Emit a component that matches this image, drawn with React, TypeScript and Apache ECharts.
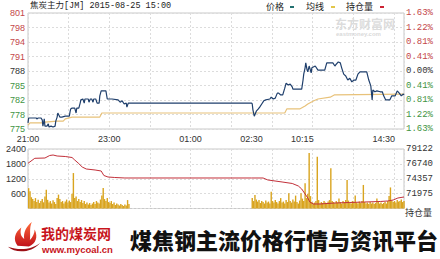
import React, { useEffect, useRef } from "react";
import * as echarts from "echarts";

// Session clock: minute index counted from 21:00, breaks removed (555 minutes in all)
const TOTAL_MINUTES = 555;
const TIME_LABELS: Record<number, string> = {
  0: "21:00",
  120: "23:00",
  240: "01:00",
  330: "02:30",
  405: "10:15",
  525: "14:30",
};

const PRE_CLOSE = 788;
const PRICE_STEP = 3.21;

// Last price (minute index, price)
const priceMinutes = [
  0, 1, 12, 13, 15, 19, 21, 22, 24, 25, 28, 30, 31, 34, 37, 40, 41, 43, 44, 47, 50, 55, 61, 62, 63, 65, 69, 71, 72, 75,
  77, 78, 81, 83, 84, 89, 90, 92, 94, 96, 97, 100, 102, 105, 106, 108, 115, 117, 124, 133, 136, 139, 142, 145, 146, 148,
  149, 330, 331, 332, 334, 337, 340, 342, 345, 348, 351, 357, 359, 362, 365, 368, 370, 373, 376, 379, 381, 384, 387, 390,
  391, 404, 406, 407, 409, 410, 412, 413, 415, 418, 419, 424, 428, 438, 441, 450, 453, 455, 458, 461, 463, 466, 469, 472,
  475, 478, 481, 484, 487, 490, 500, 503, 506, 508, 509, 512, 515, 520, 523, 525, 528, 534, 537, 542, 545, 548, 551, 554,
  555,
];
const prices = [
  776.5, 777.6, 777.6, 777.4, 777.6, 777.6, 777.2, 775.8, 777.4, 775.8, 775.8, 776.3, 775.6, 775.8, 775.6, 775.8, 776.9,
  777.8, 778.7, 777.8, 777.8, 778.0, 778.0, 778.9, 779.6, 779.8, 779.8, 778.7, 779.8, 779.8, 780.9, 781.6, 781.8, 780.9,
  781.8, 781.8, 781.1, 781.8, 781.8, 781.1, 781.8, 781.8, 780.9, 780.9, 782.5, 783.6, 783.6, 781.8, 781.8, 781.6, 781.1,
  781.4, 780.7, 780.9, 780.0, 780.9, 780.9, 780.9, 780.7, 779.4, 778.0, 779.1, 779.6, 780.0, 780.7, 781.4, 781.6, 781.8,
  782.2, 781.8, 782.0, 783.1, 783.1, 782.7, 782.7, 784.2, 785.3, 784.9, 785.1, 784.5, 784.0, 784.0, 786.0, 787.3, 788.7,
  789.8, 788.2, 787.8, 789.1, 787.6, 788.7, 789.1, 788.2, 788.2, 789.8, 789.8, 789.1, 789.5, 790.0, 789.8, 788.7, 787.3,
  786.9, 786.0, 786.4, 785.6, 786.0, 786.0, 787.3, 787.8, 787.8, 786.0, 784.7, 781.6, 783.8, 783.4, 783.6, 783.4, 783.4,
  782.5, 781.6, 781.6, 782.5, 782.5, 783.6, 783.1, 782.5, 782.9, 782.7,
];

// Average price line
const avgMinutes = [0, 3, 22, 25, 43, 52, 55, 65, 106, 109, 149, 330, 379, 382, 401, 409, 413, 422, 428, 446, 452, 555];
const avgPrices = [
  776.0, 776.5, 776.5, 776.7, 776.9, 776.9, 777.4, 777.8, 777.8, 778.7, 778.7, 778.7, 778.7, 779.6, 779.6, 780.25, 780.7,
  781.4, 781.8, 782.2, 782.7, 782.9,
];

// Volume in 2-minute buckets: night session from 21:00, day session from 09:00 (minute 330)
const nightVolumes = [
  820, 700, 450, 380, 300, 420, 260, 350, 220, 300, 380, 250, 480, 760, 350, 240, 300, 200, 330, 260, 180, 420, 560, 380,
  260, 300, 200, 280, 360, 240, 320, 260, 600, 1430, 420, 480, 300, 380, 260, 340, 220, 300, 180, 240, 160, 220, 140, 200,
  260, 180, 300, 240, 200, 360, 520, 830, 380, 300, 420, 260, 220, 300, 180, 240, 140, 200, 160, 120, 180, 140, 100, 160,
  120, 340, 180,
];
const dayVolumes = [
  420, 300, 540, 360, 280, 340, 220, 300, 260, 200, 320, 240, 280, 200, 680, 300, 240, 340, 260, 200, 300, 420, 240, 280,
  200, 340, 260, 620, 300, 240, 360, 280, 520, 260, 200, 320, 620, 400, 300, 1020, 420, 600, 2240, 500, 260, 200, 240, 300,
  2090, 340, 200, 260, 220, 300, 240, 200, 280, 340, 1620, 300, 260, 220, 300, 240, 400, 260, 200, 300, 240, 340, 1150, 320,
  240, 200, 300, 260, 520, 240, 200, 280, 220, 300, 950, 260, 200, 240, 180, 260, 200, 240, 180, 220, 400, 260, 200, 240,
  180, 220, 260, 200, 300, 500, 850, 320, 260, 300, 240, 340, 280, 300, 360, 260, 300,
];
const DAY_START = 330;

// Open interest (minute index, contracts)
const oiMinutes = [
  0, 10, 25, 32, 37, 43, 55, 65, 69, 74, 80, 86, 99, 108, 112, 118, 128, 143, 149, 330, 347, 354, 375, 390, 399, 404, 409,
  413, 416, 421, 431, 453, 475, 497, 520, 531, 539, 546, 555,
];
const openInterest = [
  76832, 77633, 77680, 78080, 78160, 78000, 77920, 77760, 77360, 76880, 76240, 75920, 75760, 75600, 74880, 74640, 74560,
  74478, 74478, 74478, 74478, 74160, 73840, 73600, 73200, 72716, 71915, 71275, 70634, 70314, 70314, 70474, 70554, 70634,
  70714, 70794, 70954, 71275, 71435,
];
const OI_BASE = 69592.6;
const OI_STEP = 2382.35;

const VOLUME_TICKS = { max: 2400, step: 600 };

const FLAME_PATH =
  "M9 27C4 21 6 13 13 8C11 14 13 18 16 20C15 13 18 7 24 2C21 9 23 15 22 21C25 18 27 14 27 10C31 18 28 25 21 28Z";
const SWOOSH_PATH = "M1 26C9 33 25 33 35 22C27 28 15 31 1 26Z";
echarts.graphic.registerShape("flame", echarts.graphic.extendPath(FLAME_PATH, {}));
echarts.graphic.registerShape("swoosh", echarts.graphic.extendPath(SWOOSH_PATH, {}));

const SANS = "Liberation Sans, Arial, sans-serif";
const MONO = "Liberation Mono, monospace";
const CJK = "Noto Sans CJK SC, sans-serif";
const UP = "#c4474a";
const DOWN = "#3f9443";
const FLAT = "#333333";
const GRID_LINE = { color: "#dcdcdc", type: [2, 2] as number[], width: 1 };

function buildOption() {
  const priceData = priceMinutes.map((m, i) => [m, (prices[i] - PRE_CLOSE) / PRICE_STEP]);
  const avgData = avgMinutes.map((m, i) => [m, (avgPrices[i] - PRE_CLOSE) / PRICE_STEP]);
  const volData = [
    ...nightVolumes.map((v, k) => [k * 2 + 1, v]),
    ...dayVolumes.map((v, k) => [DAY_START + k * 2 + 1, v]),
  ];
  const oiData = oiMinutes.map((m, i) => [m, (openInterest[i] - OI_BASE) / OI_STEP]);

  const timeAxisBase = { type: "value", min: 0, max: TOTAL_MINUTES, axisLine: { show: false }, axisTick: { show: false } };

  return {
    animation: false,
    backgroundColor: "#ffffff",
    grid: [
      { left: 28, top: 13, width: 376, height: 116, show: true, borderColor: "#c9c9c9", borderWidth: 1 },
      { left: 28, top: 149, width: 376, height: 59.5, show: true, borderColor: "#c9c9c9", borderWidth: 1 },
    ],
    xAxis: [
      {
        ...timeAxisBase,
        gridIndex: 0,
        interval: 15,
        splitLine: { show: false },
        axisLabel: {
          show: true,
          margin: 5,
          fontSize: 9,
          fontFamily: SANS,
          color: "#333",
          formatter: (v: number) => TIME_LABELS[Math.round(v)] ?? "",
        },
      },
      {
        ...timeAxisBase,
        gridIndex: 0,
        interval: 60,
        position: "top",
        axisLabel: { show: false },
        splitLine: { show: true, lineStyle: GRID_LINE },
      },
      { ...timeAxisBase, gridIndex: 1, interval: 60, axisLabel: { show: false }, splitLine: { show: true, lineStyle: GRID_LINE } },
    ],
    yAxis: [
      {
        type: "value",
        gridIndex: 0,
        min: -4,
        max: 4,
        interval: 1,
        position: "left",
        axisLine: { show: false },
        axisTick: { show: false },
        splitLine: { show: true, lineStyle: GRID_LINE },
        axisLabel: {
          margin: 3,
          fontSize: 9,
          fontFamily: SANS,
          formatter: (v: number) => {
            const r = Math.round(v);
            const txt = String(Math.round(PRE_CLOSE + v * PRICE_STEP));
            return r > 0 ? `{up|${txt}}` : r < 0 ? `{dn|${txt}}` : `{fl|${txt}}`;
          },
          rich: {
            up: { color: UP, fontSize: 9, fontFamily: SANS },
            dn: { color: DOWN, fontSize: 9, fontFamily: SANS },
            fl: { color: FLAT, fontSize: 9, fontFamily: SANS },
          },
        },
      },
      {
        type: "value",
        gridIndex: 0,
        min: -4,
        max: 4,
        interval: 1,
        position: "right",
        axisLine: { show: false },
        axisTick: { show: false },
        splitLine: { show: false },
        axisLabel: {
          margin: 2,
          fontSize: 9,
          fontFamily: MONO,
          formatter: (v: number) => {
            const r = Math.round(v);
            const txt = Math.abs((v * PRICE_STEP * 100) / PRE_CLOSE).toFixed(2) + "%";
            return r > 0 ? `{up|${txt}}` : r < 0 ? `{dn|${txt}}` : `{fl|${txt}}`;
          },
          rich: {
            up: { color: UP, fontSize: 9, fontFamily: MONO },
            dn: { color: DOWN, fontSize: 9, fontFamily: MONO },
            fl: { color: FLAT, fontSize: 9, fontFamily: MONO },
          },
        },
      },
      {
        type: "value",
        gridIndex: 1,
        min: 0,
        max: VOLUME_TICKS.max,
        interval: VOLUME_TICKS.step,
        position: "left",
        axisLine: { show: false },
        axisTick: { show: false },
        splitLine: { show: true, lineStyle: GRID_LINE },
        axisLabel: {
          margin: 2,
          fontSize: 9,
          fontFamily: SANS,
          color: "#333",
          formatter: (v: number) => (v === 0 ? "" : String(v)),
        },
      },
      {
        type: "value",
        gridIndex: 1,
        min: 0,
        max: 4,
        interval: 1,
        position: "right",
        axisLine: { show: false },
        axisTick: { show: false },
        splitLine: { show: false },
        axisLabel: {
          margin: 2,
          fontSize: 9,
          fontFamily: MONO,
          color: "#333",
          formatter: (v: number) => (v === 0 ? "" : String(Math.round(OI_BASE + v * OI_STEP))),
        },
      },
    ],
    series: [
      {
        name: "均线",
        type: "line",
        xAxisIndex: 0,
        yAxisIndex: 0,
        data: avgData,
        symbol: "none",
        lineStyle: { color: "#e8c27a", width: 1.2 },
        z: 2,
      },
      {
        name: "价格",
        type: "line",
        xAxisIndex: 0,
        yAxisIndex: 0,
        data: priceData,
        symbol: "none",
        lineStyle: { color: "#1f3f6c", width: 1.2 },
        z: 3,
      },
      {
        name: "成交量",
        type: "bar",
        xAxisIndex: 2,
        yAxisIndex: 2,
        data: volData,
        barWidth: 1.4,
        itemStyle: { color: "#d9a41e" },
        z: 2,
      },
      {
        name: "持仓量",
        type: "line",
        xAxisIndex: 2,
        yAxisIndex: 3,
        data: oiData,
        symbol: "none",
        lineStyle: { color: "#c2303a", width: 1 },
        z: 3,
      },
    ],
    graphic: [
      {
        type: "text",
        left: 30,
        top: 2,
        style: { text: "焦炭主力[JM] 2015-08-25 15:00", font: `8.5px ${MONO}, ${CJK}`, fill: "#222" },
      },
      // legend
      { type: "text", left: 266, top: 2, style: { text: "价格", font: `9px ${CJK}`, fill: "#222" } },
      { type: "rect", shape: { x: 290, y: 6, width: 4, height: 2 }, style: { fill: "#227070" } },
      { type: "text", left: 306, top: 2, style: { text: "均线", font: `9px ${CJK}`, fill: "#222" } },
      { type: "rect", shape: { x: 331, y: 6, width: 4, height: 2 }, style: { fill: "#e2c64a" } },
      { type: "text", left: 346, top: 2, style: { text: "持仓量", font: `9px ${CJK}`, fill: "#222" } },
      { type: "rect", shape: { x: 380, y: 6, width: 4, height: 2 }, style: { fill: "#cc2233" } },
      // watermark
      {
        type: "text",
        left: 335,
        top: 17,
        silent: true,
        style: { text: "东方财富网", font: `bold 12px ${CJK}`, fill: "rgba(190,190,190,0.55)" },
      },
      {
        type: "text",
        left: 336,
        top: 31,
        silent: true,
        style: { text: "eastmoney.com", font: `bold 6px ${SANS}`, fill: "rgba(190,190,190,0.6)" },
      },
      {
        type: "text",
        left: 405,
        top: 208,
        style: { text: "持仓量", font: `9px ${CJK}`, fill: "#333" },
      },
      // banner
      {
        type: "flame",
        x: 9,
        y: 220,
        scaleX: 0.95,
        scaleY: 0.95,
        style: {
          fill: new echarts.graphic.LinearGradient(0, 0, 0, 1, [
            { offset: 0, color: "#ff6a3a" },
            { offset: 1, color: "#c0101a" },
          ]),
        },
      },
      { type: "swoosh", x: 7, y: 222, scaleX: 0.95, scaleY: 0.95, style: { fill: "#9c0f16" } },
      {
        type: "text",
        left: 41,
        top: 226,
        style: { text: "我的煤炭网", font: `bold 14px ${CJK}`, fill: "#c8161d" },
      },
      {
        type: "text",
        left: 42,
        top: 244,
        style: { text: "www.mycoal.cn", font: `bold 9.5px ${SANS}`, fill: "#c8161d" },
      },
      {
        type: "text",
        left: 130,
        top: 228,
        style: { text: "煤焦钢主流价格行情与资讯平台", font: `900 22px ${CJK}`, fill: "#111" },
      },
    ],
  };
}

export default function App() {
  const ref = useRef<HTMLDivElement>(null);
  useEffect(() => {
    if (!ref.current) return;
    const chart = echarts.init(ref.current, undefined, { renderer: "svg" });
    chart.setOption(buildOption() as any);
    return () => chart.dispose();
  }, []);
  return <div ref={ref} style={{ width: 440, height: 259, position: "absolute", left: 0, top: 0 }} />;
}
